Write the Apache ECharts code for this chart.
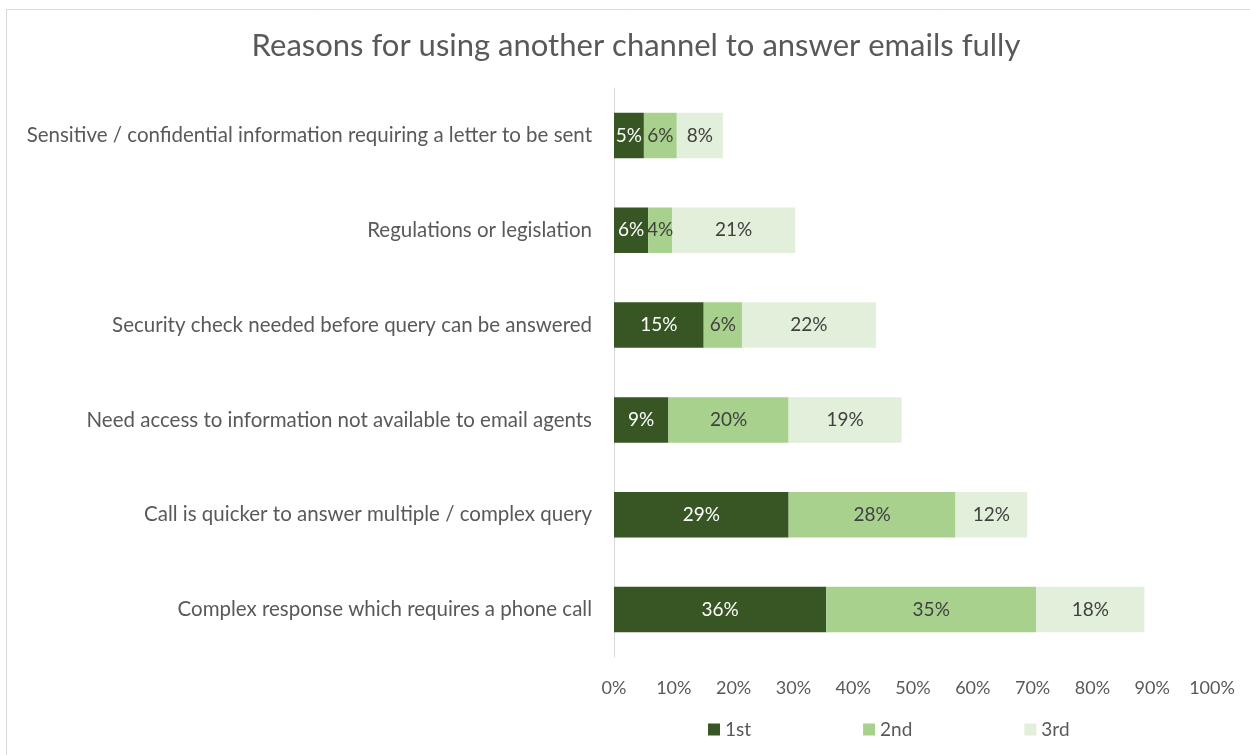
<!DOCTYPE html>
<html>
<head>
<meta charset="utf-8">
<script src="https://cdn.jsdelivr.net/npm/echarts@6/dist/echarts.min.js"></script>
<style>
  html, body { margin: 0; padding: 0; background: #fff; }
  #chart { width: 1250px; height: 755px; }
</style>
</head>
<body>
<div id="chart"></div>
<script>
// categories, top to bottom
var categories = [
  'Sensitive / confidential information requiring a letter to be sent',
  'Regulations or legislation',
  'Security check needed before query can be answered',
  'Need access to information not available to email agents',
  'Call is quicker to answer multiple / complex query',
  'Complex response which requires a phone call'
];
var first  = [5.0, 5.7, 15.0, 9.1, 29.2, 35.5];
var second = [5.5, 4.0, 6.4, 20.1, 27.9, 35.1];
var third  = [7.7, 20.6, 22.4, 18.9, 12.0, 18.1];
var xTicks = [0, 10, 20, 30, 40, 50, 60, 70, 80, 90, 100];

var font = 'Lato, "Open Sans", sans-serif';

function seg(name, data, color, labelColor) {
  return {
    name: name,
    type: 'bar',
    stack: 'total',
    data: data,
    barCategoryGap: '52%',
    itemStyle: { color: color },
    label: {
      show: true,
      position: 'inside',
      color: labelColor,
      fontFamily: font,
      fontSize: 19,
      formatter: function (p) { return Math.round(p.value) + '%'; }
    }
  };
}

var chart = echarts.init(document.getElementById('chart'));
chart.setOption({
  animation: false,
  textStyle: { fontFamily: font },
  title: {
    text: 'Reasons for using another channel to answer emails fully',
    left: 631,
    textAlign: 'center',
    top: 25,
    textStyle: { fontFamily: font, fontSize: 31, fontWeight: 'normal', color: '#595959' }
  },
  graphic: [{
    type: 'rect',
    shape: { x: 6.5, y: 9.5, width: 1260, height: 760 },
    style: { fill: 'none', stroke: '#d9d9d9', lineWidth: 1 },
    silent: true
  }],
  legend: {
    top: 715,
    left: 703,
    itemWidth: 12,
    itemHeight: 12,
    itemGap: 112,
    icon: 'rect',
    textStyle: { fontFamily: font, fontSize: 19, color: '#595959' },
    data: ['1st', '2nd', '3rd']
  },
  grid: { left: 614, right: 38, top: 88, bottom: 98, containLabel: false },
  xAxis: {
    type: 'value',
    min: 0,
    max: 100,
    interval: 10,
    axisLine: { show: false },
    axisTick: { show: false },
    splitLine: { show: false },
    axisLabel: {
      color: '#595959',
      fontSize: 18,
      fontFamily: font,
      margin: 22,
      formatter: function (v) { return xTicks.indexOf(v) >= 0 ? v + '%' : ''; }
    }
  },
  yAxis: {
    type: 'category',
    inverse: true,
    data: categories,
    axisLine: { show: true, lineStyle: { color: '#d9d9d9', width: 1 } },
    axisTick: { show: false },
    axisLabel: { color: '#595959', fontSize: 20.5, fontFamily: font, margin: 22 }
  },
  series: [
    seg('1st', first, '#375623', '#ffffff'),
    seg('2nd', second, '#a9d18e', '#404040'),
    seg('3rd', third, '#e2efda', '#404040')
  ]
});
</script>
</body>
</html>
